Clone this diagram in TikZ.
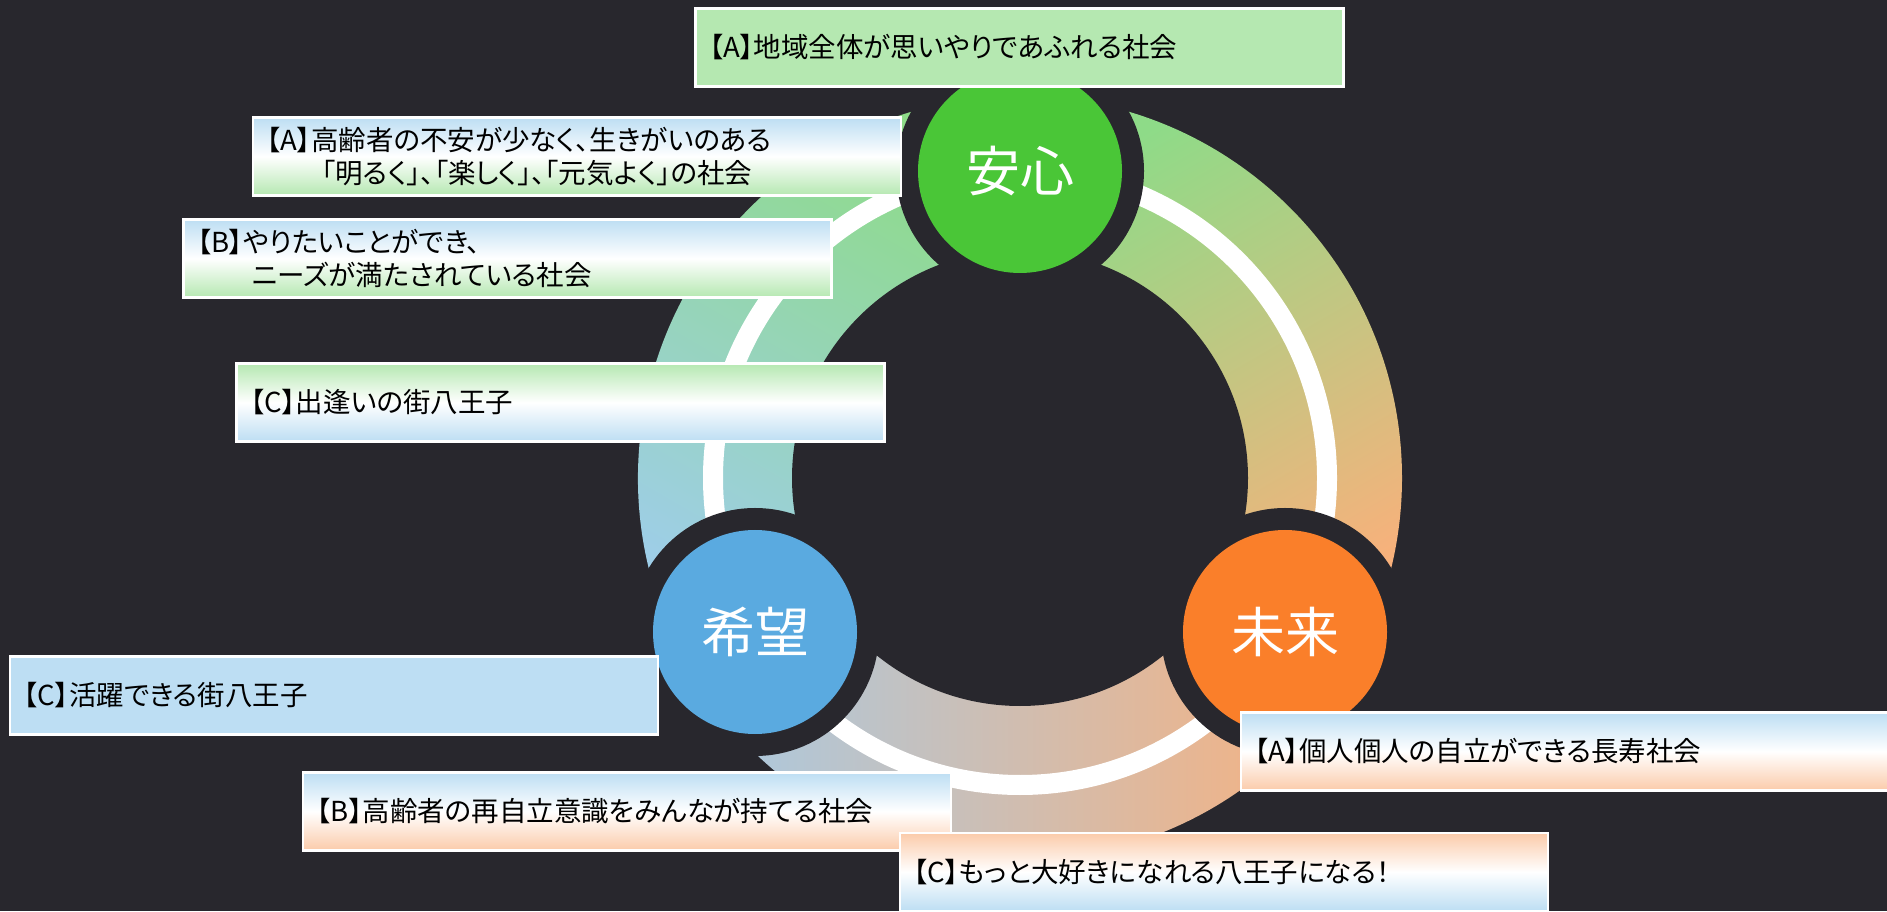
\documentclass[tikz,border=0pt]{standalone}
\usepackage{fontspec}
\setmainfont[RawFeature=+palt]{Noto Sans CJK JP}

\definecolor{bgdark}{HTML}{28272D}
\definecolor{ansin}{HTML}{4AC637}
\definecolor{mirai}{HTML}{FA7F2A}
\definecolor{kibou}{HTML}{5AAAE0}
\definecolor{boxgreen}{HTML}{B5E8B1}
\definecolor{boxblue}{HTML}{BDDEF3}
\definecolor{boxpeach}{HTML}{FBCBAA}
\definecolor{ringgreen}{HTML}{8EDB88}
\definecolor{ringorange}{HTML}{FAB07B}
\definecolor{ringblue}{HTML}{9FCDEE}
\definecolor{ringgray}{HTML}{A7CAE4}

\begin{document}
\begin{tikzpicture}[x=1pt, y=1pt,
    keyword/.style ={circle, minimum size=204pt, inner sep=0pt, text=white,
      preaction={draw=bgdark, line width=44pt},
      font=\fontsize{54}{60}\selectfont},
    goal/.style ={rectangle, draw=white, line width=2.5pt, minimum height=78pt,
      inner xsep=14pt, text width=620pt, align=left,
      font=\fontsize{27.5}{33}\selectfont}]
   \useasboundingbox (0,0) rectangle (1887,911);
   \fill[bgdark] (0,0) rectangle (1887,911);

   \shade[bottom color=ringgreen, top color=ringorange, shading angle=-150]
     (1020,433) -- ++(90:382) arc[start angle=90, end angle=-30, radius=382] -- cycle;
   \shade[left color=ringgray, right color=ringorange]
     (1020,433) -- ++(-30:382) arc[start angle=-30, end angle=-150, radius=382] -- cycle;
   \shade[bottom color=ringblue, top color=ringgreen, shading angle=-30]
     (1020,433) -- ++(210:382) arc[start angle=210, end angle=90, radius=382] -- cycle;
   \draw[white, line width=20pt] (1020,433) circle (307);
   \fill[bgdark] (1020,433) circle (228);

   \node[keyword, fill=ansin] (ansin) at (1020,740) {安心};
   \node[keyword, fill=mirai] (mirai) at (1285,279) {未来};
   \node[keyword, fill=kibou] (kibou) at (755,279) {希望};

   \node[goal, fill=boxgreen] (chiiki) at (1019.5,863.5) {【A】地域全体が思いやりであふれる社会};
   \node[goal, top color=boxblue, bottom color=boxgreen, middle color=white] (koreisha) at (577,754.5)
     {【A】高齢者の不安が少なく、生きがいのある\\　　「明るく」、「楽しく」、「元気よく」の社会};
   \node[goal, top color=boxblue, bottom color=boxgreen, middle color=white] (yaritai) at (507.5,652.5)
     {【B】やりたいことができ、\\　　ニーズが満たされている社会};
   \node[goal, top color=boxgreen, bottom color=boxblue, middle color=white] (deai) at (560.5,508.5)
     {【C】出逢いの街八王子};
   \node[goal, fill=boxblue] (katsuyaku) at (334,215.5) {【C】活躍できる街八王子};
   \node[goal, top color=boxblue, bottom color=boxpeach, middle color=white] (jiritsu) at (627,99.5)
     {【B】高齢者の再自立意識をみんなが持てる社会};
   \node[goal, top color=boxblue, bottom color=boxpeach, middle color=white] (kojin) at (1565,159.5)
     {【A】個人個人の自立ができる長寿社会};
   \node[goal, top color=boxpeach, bottom color=boxblue, middle color=white] (daisuki) at (1224,39)
     {【C】もっと大好きになれる八王子になる！};
\end{tikzpicture}
\end{document}
